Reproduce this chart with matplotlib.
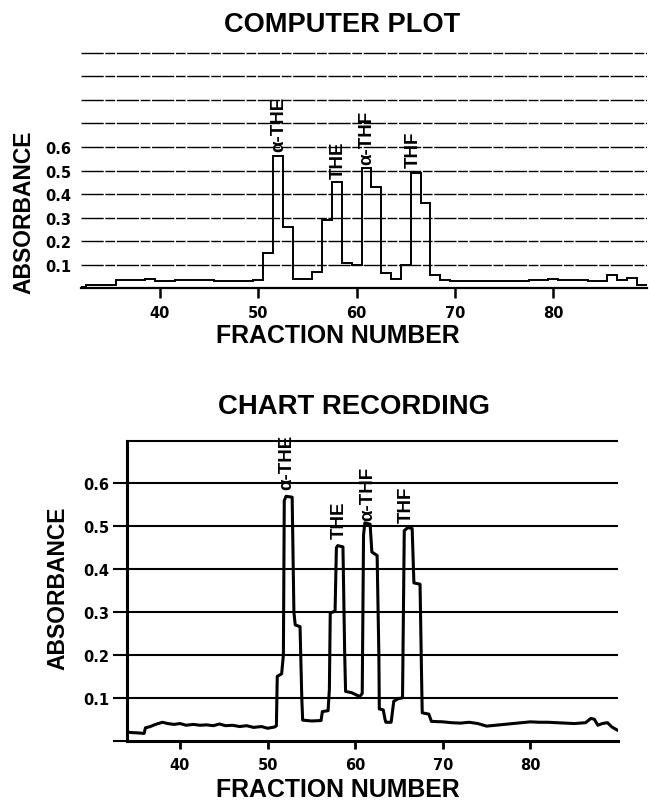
import numpy as np
import matplotlib
matplotlib.use("Agg")
import matplotlib.pyplot as plt

# ---------------- data ----------------
# Computer plot: absorbance per fraction (step plot)
fractions = list(range(32, 91))
computer_abs = [
    0.004, 0.012, 0.012, 0.012, 0.036, 0.037, 0.034, 0.038, 0.031, 0.033,   # 32-41
    0.036, 0.034, 0.035, 0.034, 0.033, 0.033, 0.032, 0.033, 0.034, 0.150,   # 42-51
    0.560, 0.260, 0.040, 0.040, 0.070, 0.290, 0.450, 0.107, 0.098, 0.510,   # 52-61
    0.430, 0.067, 0.039, 0.100, 0.490, 0.360, 0.057, 0.034, 0.033, 0.032,   # 62-71
    0.031, 0.032, 0.030, 0.030, 0.031, 0.033, 0.034, 0.036, 0.038, 0.037,   # 72-81
    0.035, 0.034, 0.033, 0.033, 0.056, 0.035, 0.043, 0.012, 0.012,          # 82-90
]

# Chart recording: continuous trace readings (fraction number, absorbance)
chart_x = [33.9, 34.5, 35.3, 35.9, 36.05, 36.6, 37.2, 38.0, 38.6, 39.3, 40.0, 40.7,
           41.5, 42.3, 43.0, 43.8, 44.5, 45.2, 46.0, 46.8, 47.6, 48.4, 49.3, 50.0,
           50.8, 51.0, 51.1, 51.6, 51.8, 51.9, 52.1, 52.8, 53.0, 53.15, 53.7, 53.9,
           54.0, 55.0, 56.1, 56.25, 56.9, 57.05, 57.15, 57.7, 57.85, 58.0, 58.6, 58.8,
           58.9, 59.6, 60.5, 60.8, 60.95, 61.1, 61.7, 61.9, 62.5, 62.7, 62.75, 63.2,
           63.4, 63.5, 64.1, 64.4, 64.9, 65.4, 65.6, 66.0, 66.5, 66.7, 67.4, 67.6,
           67.65, 68.4, 68.7, 70.0, 71.0, 72.0, 73.0, 74.0, 75.0, 76.0, 77.0, 78.0,
           79.0, 80.0, 81.0, 82.0, 83.0, 84.0, 85.0, 86.3, 86.9, 87.3, 87.7, 88.2,
           88.8, 89.3, 89.9]
chart_abs = [0.020, 0.019, 0.018, 0.017, 0.030, 0.033, 0.038, 0.043, 0.040, 0.038, 0.040, 0.036,
             0.038, 0.036, 0.037, 0.035, 0.039, 0.035, 0.036, 0.033, 0.035, 0.031, 0.033, 0.029,
             0.032, 0.035, 0.150, 0.156, 0.200, 0.560, 0.570, 0.568, 0.300, 0.270, 0.266, 0.100,
             0.048, 0.046, 0.047, 0.068, 0.070, 0.120, 0.298, 0.302, 0.450, 0.455, 0.452, 0.200,
             0.115, 0.112, 0.103, 0.110, 0.480, 0.508, 0.505, 0.440, 0.432, 0.200, 0.074, 0.072,
             0.050, 0.043, 0.043, 0.092, 0.098, 0.100, 0.490, 0.497, 0.495, 0.368, 0.365, 0.120,
             0.065, 0.062, 0.045, 0.044, 0.042, 0.041, 0.043, 0.040, 0.034, 0.036, 0.038, 0.040,
             0.042, 0.044, 0.043, 0.043, 0.042, 0.041, 0.040, 0.042, 0.052, 0.050, 0.036, 0.040,
             0.042, 0.032, 0.025]

peak_labels = ["α-THE", "THE", "α-THF", "THF"]
top_label_x = [52.1, 58.1, 61.0, 65.8]
top_label_y = [0.584, 0.470, 0.529, 0.516]
bot_label_x = [52.2, 58.2, 61.4, 65.8]
bot_label_y = [0.588, 0.473, 0.515, 0.511]

x_ticks = [40, 50, 60, 70, 80]
y_ticks = [0.1, 0.2, 0.3, 0.4, 0.5, 0.6]
top_grid = [0.1, 0.2, 0.3, 0.4, 0.5, 0.6, 0.7, 0.8, 0.9, 1.0]
bot_grid = [0.1, 0.2, 0.3, 0.4, 0.5, 0.6, 0.7]

# ---------------- fonts ----------------
LBL = ["Liberation Sans", "DejaVu Sans"]
NUM = ["DejaVu Sans"]

W, H = 649, 803
fig = plt.figure(figsize=(W / 100, H / 100), dpi=100)
fig.patch.set_facecolor("white")

def fx(px):
    return px / W

def fy(py):
    return 1 - py / H

# ---------------- top: computer plot ----------------
ax1 = fig.add_axes([fx(81.4), fy(289.3), fx(646.6) - fx(81.4), (289.3 - 49.0) / H])
frac = np.array(fractions, dtype=float)
edges = np.append(frac - 0.5, frac[-1] + 0.5)
ax1.stairs(computer_abs, edges, baseline=None, color="black", lw=1.4)
for g in top_grid:
    ax1.axhline(g, color="black", lw=1.0, ls=(0, (16, 1.2, 7, 1.2)), zorder=0)
ax1.set_xlim(32, 89.5)
ax1.set_ylim(0, 1.0 + 0.02)
for s in ["top", "right", "left"]:
    ax1.spines[s].set_visible(False)
ax1.spines["bottom"].set_linewidth(1.6)
ax1.set_xticks(x_ticks)
ax1.set_xticklabels([str(t) for t in x_ticks], family=NUM, weight="bold", fontsize=10.5)
ax1.set_yticks(y_ticks)
ax1.set_yticklabels([f"{t:.1f}" for t in y_ticks], family=NUM, weight="bold", fontsize=10.5)
ax1.tick_params(axis="x", direction="out", length=7, width=1.8, pad=5)
ax1.tick_params(axis="y", length=0, pad=7)
for lab, x, y in zip(peak_labels, top_label_x, top_label_y):
    ax1.text(x, y, lab, rotation=90, ha="center", va="bottom", family=LBL,
             weight="bold", fontsize=13.5, clip_on=False)

fig.text(fx(342), fy(25), "COMPUTER PLOT", ha="center", va="center", family=LBL,
         weight="bold", fontsize=19.6)
fig.text(fx(337.5), fy(336), "FRACTION NUMBER", ha="center", va="center", family=LBL,
         weight="bold", fontsize=17.9)
fig.text(fx(24), fy(212), "ABSORBANCE", ha="center", va="center", rotation=90,
         family=LBL, weight="bold", fontsize=16.5)

# ---------------- bottom: chart recording ----------------
ax2 = fig.add_axes([fx(126.6), fy(741.7), fx(618) - fx(126.6), (741.7 - 436.0) / H])
ax2.plot(chart_x, chart_abs, color="black", lw=2.2, solid_joinstyle="round")
for g in bot_grid:
    ax2.axhline(g, color="black", lw=1.5, zorder=0)
ax2.set_xlim(33.9, 90.0)
ax2.set_ylim(0, 0.713)
for s in ["top", "right"]:
    ax2.spines[s].set_visible(False)
ax2.spines["left"].set_linewidth(2.2)
ax2.spines["bottom"].set_linewidth(2.2)
ax2.spines["left"].set_bounds(0, 0.7)
ax2.set_xticks(x_ticks)
ax2.set_xticklabels([str(t) for t in x_ticks], family=NUM, weight="bold", fontsize=10.5)
ax2.set_yticks([0.0] + y_ticks)
ax2.set_yticklabels([""] + [f"{t:.1f}" for t in y_ticks], family=NUM, weight="bold", fontsize=10.5)
ax2.tick_params(axis="x", direction="out", length=6, width=2.0, pad=6)
ax2.tick_params(axis="y", direction="out", length=10, width=1.5, pad=2.5)
for lab, x, y in zip(peak_labels, bot_label_x, bot_label_y):
    ax2.text(x, y, lab, rotation=90, ha="center", va="bottom", family=LBL,
             weight="bold", fontsize=13.5, clip_on=False)

fig.text(fx(354.5), fy(407), "CHART RECORDING", ha="center", va="center", family=LBL,
         weight="bold", fontsize=19.8)
fig.text(fx(338), fy(790), "FRACTION NUMBER", ha="center", va="center", family=LBL,
         weight="bold", fontsize=17.9)
fig.text(fx(58), fy(588), "ABSORBANCE", ha="center", va="center", rotation=90,
         family=LBL, weight="bold", fontsize=16.5)

fig.savefig("out.png", dpi=100, facecolor="white")
